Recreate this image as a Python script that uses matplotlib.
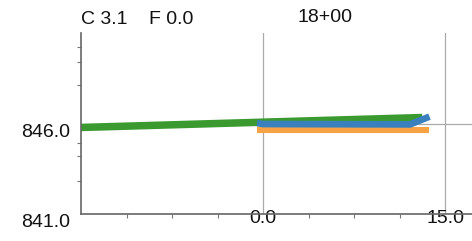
import matplotlib.pyplot as plt
from matplotlib.ticker import FixedLocator

# profile data (offset, elevation)
green_x = [-15.0, 13.1]
green_y = [845.78, 846.33]
blue_x = [-0.5, 0.0, 12.1, 13.7]
blue_y = [846.02, 845.97, 845.95, 846.38]
orange_x = [-0.5, 13.7]
orange_y = [845.63, 845.63]

x_ticks = [0.0, 15.0]
y_ticks = [841.0, 846.0]
x_minor = [-11.25, -7.5, -3.75, 3.75, 7.5, 11.25]
y_minor = [842.8, 844.2, 844.9, 848.1, 849.4, 850.2]

plt.rcParams['font.family'] = ['Liberation Sans', 'DejaVu Sans']

fig = plt.figure(figsize=(4.72, 2.41), dpi=100)
ax = fig.add_axes([81 / 472, 27 / 241, 1 - 81 / 472, 181 / 241])

ax.plot(green_x, green_y, color='#3a9a30', lw=5.4, solid_capstyle='butt', zorder=3)
ax.plot(orange_x, orange_y, color='#f7a244', lw=4.4, solid_capstyle='butt', zorder=3)
ax.plot(blue_x, blue_y, color='#3a80bf', lw=4.8, solid_capstyle='butt', zorder=4)

ax.set_xlim(-15, 17.2)
ax.set_ylim(841, 851)

ax.set_xticks(x_ticks)
ax.set_xticklabels(['%.1f' % v for v in x_ticks])
ax.set_yticks(y_ticks)
ax.set_yticklabels(['%.1f' % v for v in y_ticks])
ax.xaxis.set_minor_locator(FixedLocator(x_minor))
ax.yaxis.set_minor_locator(FixedLocator(y_minor))
for lbl in ax.get_yticklabels():
    lbl.set_verticalalignment('top')

ax.tick_params(which='major', length=0, labelsize=14, colors='#111111')
ax.tick_params(axis='x', which='major', pad=-3)
ax.tick_params(axis='y', which='major', pad=8)
ax.tick_params(which='minor', length=3, width=0.8, color='#777777')

ax.grid(True, which='major', color='#aaaaaa', lw=0.9, zorder=1)

for s in ['top', 'right']:
    ax.spines[s].set_visible(False)
for s in ['left', 'bottom']:
    ax.spines[s].set_color('#666666')
    ax.spines[s].set_linewidth(1.2)
    ax.spines[s].set_zorder(5)

fig.text(81 / 472, 1 - 19 / 241, 'C 3.1    F 0.0', fontsize=14, ha='left', va='center', color='#111111')
fig.text(325 / 472, 1 - 17 / 241, '18+00', fontsize=14, ha='center', va='center', color='#111111')

fig.savefig('out.png', dpi=100)
